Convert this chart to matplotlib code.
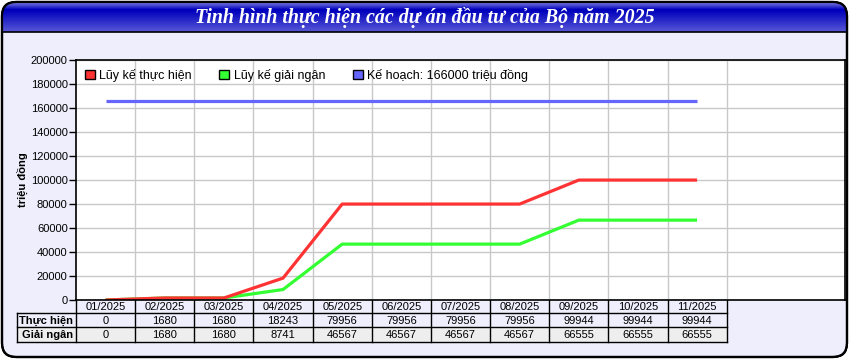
import numpy as np
import matplotlib.pyplot as plt
from matplotlib.patches import FancyBboxPatch, Rectangle, Patch

plt.rcParams['font.family'] = ['Liberation Sans', 'DejaVu Sans']

# dữ liệu
thang = ['01/2025', '02/2025', '03/2025', '04/2025', '05/2025', '06/2025',
         '07/2025', '08/2025', '09/2025', '10/2025', '11/2025']
thuc_hien = [0, 1680, 1680, 18243, 79956, 79956, 79956, 79956, 99944, 99944, 99944]
giai_ngan = [0, 1680, 1680, 8741, 46567, 46567, 46567, 46567, 66555, 66555, 66555]
ke_hoach = 166000
tieu_de = 'Tinh hình thực hiện các dự án đầu tư của Bộ năm 2025'

W, H = 850, 360
fig = plt.figure(figsize=(W / 100, H / 100), dpi=100)

# lớp nền (toạ độ pixel)
bg = fig.add_axes([0, 0, 1, 1])
bg.set_xlim(0, W)
bg.set_ylim(H, 0)
bg.axis('off')

khung = FancyBboxPatch((2, 2), W - 5, H - 5, boxstyle='round,pad=0,rounding_size=14',
                       facecolor='#EEEEFC', edgecolor='black', lw=1.6, zorder=1)
bg.add_patch(khung)

# dải tiêu đề có gradient
grad = np.concatenate([np.linspace(0, 1, 10), np.linspace(1, 0.45, 22)])
c_top = np.array([0.62, 0.62, 0.92])
c_mid = np.array([0.0, 0.0, 0.74])
img = c_top[None, :] * (1 - grad[:, None]) + c_mid[None, :] * grad[:, None]
img = np.repeat(img[:, None, :], 2, axis=1)
im = bg.imshow(img, extent=(0, W, 32, 0), aspect='auto', zorder=2, interpolation='bilinear')
im.set_clip_path(khung)
bg.plot([2, W - 3], [32, 32], color='black', lw=1.2, zorder=3)
vien = FancyBboxPatch((2, 2), W - 5, H - 5, boxstyle='round,pad=0,rounding_size=14',
                      facecolor='none', edgecolor='black', lw=1.6, zorder=4)
bg.add_patch(vien)
bg.text(W / 2, 17.5, tieu_de, color='white', fontsize=14.3, fontweight='bold',
        fontstyle='italic', family=['Liberation Serif', 'DejaVu Serif'],
        ha='center', va='center', zorder=5)

# vùng biểu đồ
L, R, T, B = 76, 845, 60, 300
ax = fig.add_axes([L / W, (H - B) / H, (R - L) / W, (B - T) / H])
ax.set_facecolor('white')
x = np.arange(len(thang))
ax.set_xlim(-0.5, 12.5)
ax.set_ylim(0, 200000)
ax.set_yticks(np.arange(0, 200001, 20000))
ax.tick_params(axis='y', labelsize=8, length=5, width=1, pad=1)
ax.set_xticks([])
ax.set_axisbelow(True)
ax.grid(axis='y', color='#C8C8C8', lw=1)
for b in np.arange(0.5, len(thang), 1):
    ax.axvline(b, color='#C8C8C8', lw=1, zorder=0)
for s in ax.spines.values():
    s.set_linewidth(1.2)

ax.plot(x, [ke_hoach] * len(x), color='#6666FF', lw=2.3, solid_capstyle='butt')
ax.plot(x, giai_ngan, color='#33FF33', lw=2.3, solid_capstyle='butt')
ax.plot(x, thuc_hien, color='#FF3333', lw=2.3, solid_capstyle='butt')

ax.set_ylabel('triệu đồng', fontsize=8, fontweight='bold', labelpad=2)

handles = [Patch(facecolor='#FF3333', edgecolor='black'),
           Patch(facecolor='#33FF33', edgecolor='black'),
           Patch(facecolor='#6666FF', edgecolor='black')]
labels = ['Lũy kế thực hiện', 'Lũy kế giải ngân', 'Kế hoạch: %d triệu đồng' % ke_hoach]
ax.legend(handles, labels, ncol=3, loc='upper left', frameon=False, fontsize=9,
          handlelength=0.8, handleheight=0.8, handletextpad=0.35, columnspacing=2.2,
          bbox_to_anchor=(0.0, 1.0), borderaxespad=0.3)

# bảng số liệu bên dưới
slot = (R - L) / 13
bg.add_patch(Rectangle((L, 327), slot * len(thang), 15, facecolor='#EEEEEE',
                       edgecolor='none', zorder=2))
bg.add_patch(Rectangle((17, 327), L - 17, 15, facecolor='#EEEEEE',
                       edgecolor='none', zorder=2))
xr = L + slot * len(thang)
for yy in (313, 327, 342):
    bg.plot([17, xr], [yy, yy], color='black', lw=1, zorder=3)
for k in range(len(thang) + 1):
    xx = L + k * slot
    bg.plot([xx, xx], [300, 342], color='black', lw=1, zorder=3)
bg.plot([17, 17], [313, 342], color='black', lw=1, zorder=3)
for i, t in enumerate(thang):
    cx = L + (i + 0.5) * slot
    bg.text(cx, 307, t, fontsize=8, ha='center', va='center', zorder=5)
    bg.text(cx, 320.5, str(thuc_hien[i]), fontsize=8, ha='center', va='center', zorder=5)
    bg.text(cx, 334.5, str(giai_ngan[i]), fontsize=8, ha='center', va='center', zorder=5)
bg.text(L - 3, 320.5, 'Thực hiện', fontsize=8, fontweight='bold', ha='right', va='center', zorder=5)
bg.text(L - 3, 334.5, 'Giải ngân', fontsize=8, fontweight='bold', ha='right', va='center', zorder=5)

fig.savefig('out.png', dpi=100)
